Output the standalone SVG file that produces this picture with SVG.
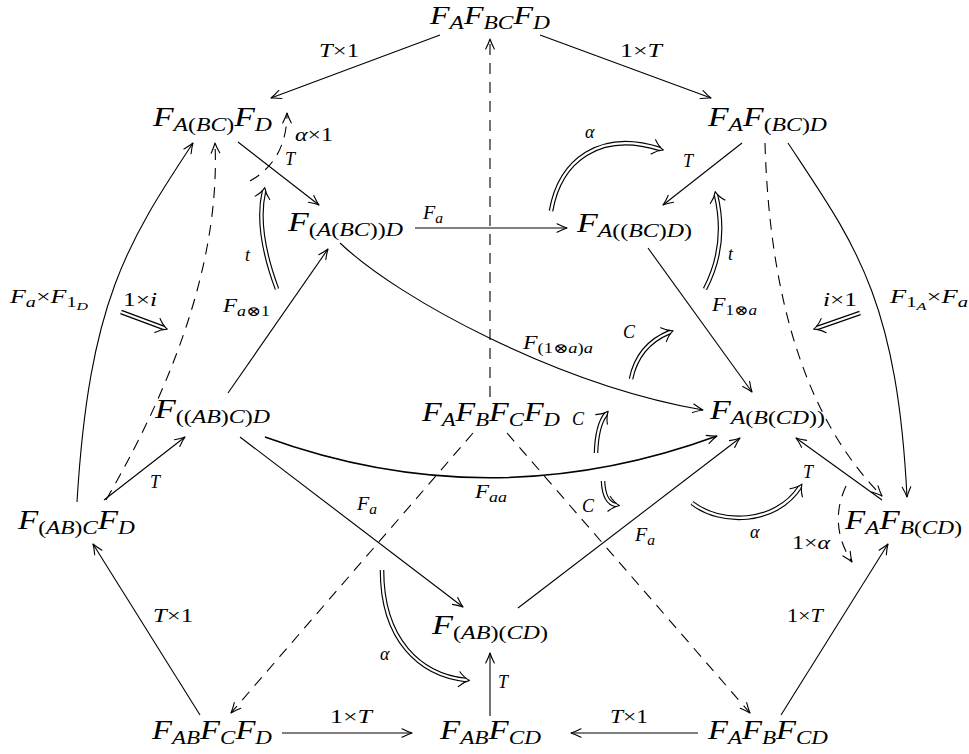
<svg xmlns="http://www.w3.org/2000/svg" width="969" height="754" viewBox="0 0 969 754">
<style>
.n{font-family:"Liberation Serif","DejaVu Serif",serif;font-size:27px;font-style:italic;fill:#000}
.s{font-size:19px}
.l{font-family:"Liberation Serif","DejaVu Serif",serif;font-size:18px;font-style:italic;fill:#000}
.ls{font-size:14px}
.lss{font-size:11px}
.r{font-style:normal}
.e{fill:none;stroke:#000;stroke-width:1.1}
.d{fill:none;stroke:#000;stroke-width:1.1;stroke-dasharray:11 8}
.dbo{fill:none;stroke:#000;stroke-width:4.6}
.dbi{fill:none;stroke:#fff;stroke-width:2.3}
</style>
<defs>
<marker id="ah" viewBox="-12 -6 14 12" refX="0" refY="0" markerWidth="14" markerHeight="12" markerUnits="userSpaceOnUse" orient="auto">
<path d="M-10,-4.3 Q-4,-1.2 0,0 Q-4,1.2 -10,4.3" fill="none" stroke="#000" stroke-width="1.1" stroke-linecap="round" stroke-linejoin="round" stroke-dasharray="none"/>
</marker>
<marker id="dh" viewBox="-10 -10 16 20" refX="0" refY="0" markerWidth="16" markerHeight="20" markerUnits="userSpaceOnUse" orient="auto">
<path d="M-7,-7.5 Q-2,-2 3.5,0 Q-2,2 -7,7.5" fill="none" stroke="#000" stroke-width="1.1" stroke-linecap="round" stroke-linejoin="round"/>
</marker>
</defs>
<rect width="969" height="754" fill="#fff"/>
<g id="connectors">
<path class="e" d="M440,35 L271,98" marker-end="url(#ah)"/>
<path class="e" d="M540,35 L711,98" marker-end="url(#ah)"/>
<path class="e" d="M238,142 L319,205" marker-end="url(#ah)"/>
<path class="e" d="M742,143 L663,205" marker-end="url(#ah)"/>
<path class="e" d="M415,228 L567,228" marker-end="url(#ah)"/>
<path class="e" d="M228,393 L328,249" marker-end="url(#ah)"/>
<path class="e" d="M648,248 L752,392" marker-end="url(#ah)"/>
<path class="e" d="M340,243 C400,300 560,385 703,410" marker-end="url(#ah)"/>
<path class="e" d="M265,437 Q490,519 717,436" style="stroke-width:1.5" marker-end="url(#ah)"/>
<path class="e" d="M240,437 L463,607" marker-end="url(#ah)"/>
<path class="e" d="M104,500 L185,437" marker-end="url(#ah)"/>
<path class="e" d="M77,502 C89,302 127,243 193,143" marker-end="url(#ah)"/>
<path class="e" d="M788,143 C854,243 897,297 907,497" marker-end="url(#ah)"/>
<path class="e" d="M882,500 L796,438" marker-end="url(#ah)"/>
<path class="e" d="M518,608 L740,438" marker-end="url(#ah)"/>
<path class="e" d="M200,715 L93,544" marker-end="url(#ah)"/>
<path class="e" d="M282,733 L412,733" marker-end="url(#ah)"/>
<path class="e" d="M698,733 L571,733" marker-end="url(#ah)"/>
<path class="e" d="M490,716 L490,653" marker-end="url(#ah)"/>
<path class="e" d="M781,715 L888,544" marker-end="url(#ah)"/>
<path class="d" d="M490,397 L490,39" marker-end="url(#ah)"/>
<path class="d" d="M473,433 L231,713" marker-end="url(#ah)"/>
<path class="d" d="M507,433 L750,713" marker-end="url(#ah)"/>
<path class="d" d="M106,500 Q222,300 215,143" marker-end="url(#ah)"/>
<path class="d" d="M765,143 Q772,385 882,496" marker-end="url(#ah)"/>
<path class="d" d="M250,181 Q287,160 287,113" marker-end="url(#ah)"/>
<path class="d" d="M846,486 Q828,525 852,562" marker-end="url(#ah)"/>
<path class="dbo" d="M551,211 C560,160 600,130 660,149"/>
<path class="dbi" d="M551,211 C560,160 600,130 660,149" marker-end="url(#dh)"/>
<path class="dbo" d="M277,289 Q255,230 264,191"/>
<path class="dbi" d="M277,289 Q255,230 264,191" marker-end="url(#dh)"/>
<path class="dbo" d="M705,289 Q728,245 716,195"/>
<path class="dbi" d="M705,289 Q728,245 716,195" marker-end="url(#dh)"/>
<path class="dbo" d="M121,312 L164,328"/>
<path class="dbi" d="M121,312 L164,328" marker-end="url(#dh)"/>
<path class="dbo" d="M860,313 L817,328"/>
<path class="dbi" d="M860,313 L817,328" marker-end="url(#dh)"/>
<path class="dbo" d="M631,379 Q638,345 670,332"/>
<path class="dbi" d="M631,379 Q638,345 670,332" marker-end="url(#dh)"/>
<path class="dbo" d="M596,453 Q597,425 606,414"/>
<path class="dbi" d="M596,453 Q597,425 606,414" marker-end="url(#dh)"/>
<path class="dbo" d="M603,481 Q604,503 616,505"/>
<path class="dbi" d="M603,481 Q604,503 616,505" marker-end="url(#dh)"/>
<path class="dbo" d="M692,503 C720,525 775,525 800,487"/>
<path class="dbi" d="M692,503 C720,525 775,525 800,487" marker-end="url(#dh)"/>
<path class="dbo" d="M382,570 C382,640 420,675 466,680"/>
<path class="dbi" d="M382,570 C382,640 420,675 466,680" marker-end="url(#dh)"/>
</g>
<g id="labels">
<text class="l" x="319" y="57" textLength="40" lengthAdjust="spacingAndGlyphs">T<tspan class="r">×1</tspan></text>
<text class="l" x="620" y="57" textLength="42" lengthAdjust="spacingAndGlyphs"><tspan class="r">1×</tspan>T</text>
<text class="l" x="295" y="141" textLength="38" lengthAdjust="spacingAndGlyphs">α<tspan class="r">×1</tspan></text>
<text class="l" x="285" y="165">T</text>
<text class="l" x="683" y="167">T</text>
<text class="l" x="585" y="138">α</text>
<text class="l" x="245" y="261">t</text>
<text class="l" x="728" y="260">t</text>
<text class="l" x="423" y="219" textLength="20" lengthAdjust="spacingAndGlyphs">F<tspan class="ls" dy="4">a</tspan></text>
<text class="l" x="10" y="303" textLength="78" lengthAdjust="spacingAndGlyphs">F<tspan class="ls" dy="4">a</tspan><tspan class="r" dy="-4">×</tspan>F<tspan class="ls r" dy="4">1</tspan><tspan class="lss" dy="3">D</tspan></text>
<text class="l" x="123" y="306" textLength="34" lengthAdjust="spacingAndGlyphs"><tspan class="r">1×</tspan>i</text>
<text class="l" x="223" y="312" textLength="47" lengthAdjust="spacingAndGlyphs">F<tspan class="ls" dy="4">a<tspan class="r">⊗1</tspan></tspan></text>
<text class="l" x="523" y="349" textLength="70" lengthAdjust="spacingAndGlyphs">F<tspan class="ls" dy="4"><tspan class="r">(1⊗</tspan>a<tspan class="r">)</tspan>a</tspan></text>
<text class="l" x="623" y="338">C</text>
<text class="l" x="712" y="311" textLength="45" lengthAdjust="spacingAndGlyphs">F<tspan class="ls" dy="4"><tspan class="r">1⊗</tspan>a</tspan></text>
<text class="l" x="823" y="306" textLength="34" lengthAdjust="spacingAndGlyphs">i<tspan class="r">×1</tspan></text>
<text class="l" x="890" y="303" textLength="78" lengthAdjust="spacingAndGlyphs">F<tspan class="ls r" dy="4">1</tspan><tspan class="lss" dy="3">A</tspan><tspan class="r" dy="-7">×</tspan>F<tspan class="ls" dy="4">a</tspan></text>
<text class="l" x="572" y="425">C</text>
<text class="l" x="150" y="488">T</text>
<text class="l" x="475" y="498" textLength="32" lengthAdjust="spacingAndGlyphs">F<tspan class="ls" dy="4">aa</tspan></text>
<text class="l" x="357" y="510" textLength="20" lengthAdjust="spacingAndGlyphs">F<tspan class="ls" dy="4">a</tspan></text>
<text class="l" x="582" y="512">C</text>
<text class="l" x="803" y="478">T</text>
<text class="l" x="635" y="541" textLength="20" lengthAdjust="spacingAndGlyphs">F<tspan class="ls" dy="4">a</tspan></text>
<text class="l" x="750" y="538">α</text>
<text class="l" x="792" y="549" textLength="38" lengthAdjust="spacingAndGlyphs"><tspan class="r">1×</tspan>α</text>
<text class="l" x="153" y="622" textLength="40" lengthAdjust="spacingAndGlyphs">T<tspan class="r">×1</tspan></text>
<text class="l" x="787" y="622" textLength="36" lengthAdjust="spacingAndGlyphs"><tspan class="r">1×</tspan>T</text>
<text class="l" x="380" y="660">α</text>
<text class="l" x="498" y="688">T</text>
<text class="l" x="330" y="723" textLength="42" lengthAdjust="spacingAndGlyphs"><tspan class="r">1×</tspan>T</text>
<text class="l" x="610" y="723" textLength="38" lengthAdjust="spacingAndGlyphs">T<tspan class="r">×1</tspan></text>
</g>
<g id="n_FA_FBC_FD"><text class="n" x="430" y="24" style="font-size:26px" textLength="120" lengthAdjust="spacingAndGlyphs">F<tspan class="s" dy="5">A</tspan><tspan dy="-5">F</tspan><tspan class="s" dy="5">BC</tspan><tspan dy="-5">F</tspan><tspan class="s" dy="5">D</tspan></text></g>
<g id="n_FA_BC_FD"><text class="n" x="153" y="126" textLength="119" lengthAdjust="spacingAndGlyphs">F<tspan class="s" dy="5">A<tspan class="r">(</tspan>BC<tspan class="r">)</tspan></tspan><tspan dy="-5">F</tspan><tspan class="s" dy="5">D</tspan></text></g>
<g id="n_FA_F_BC_D"><text class="n" x="708" y="126" textLength="119" lengthAdjust="spacingAndGlyphs">F<tspan class="s" dy="5">A</tspan><tspan dy="-5">F</tspan><tspan class="s" dy="5"><tspan class="r">(</tspan>BC<tspan class="r">)</tspan>D</tspan></text></g>
<g id="n_F_A_BC_D"><text class="n" x="288" y="231" textLength="115" lengthAdjust="spacingAndGlyphs">F<tspan class="s" dy="5"><tspan class="r">(</tspan>A<tspan class="r">(</tspan>BC<tspan class="r">))</tspan>D</tspan></text></g>
<g id="n_FA__BC_D"><text class="n" x="577" y="232" textLength="115" lengthAdjust="spacingAndGlyphs">F<tspan class="s" dy="5">A<tspan class="r">((</tspan>BC<tspan class="r">)</tspan>D<tspan class="r">)</tspan></tspan></text></g>
<g id="n_F__AB_C_D"><text class="n" x="155" y="418" textLength="115" lengthAdjust="spacingAndGlyphs">F<tspan class="s" dy="5"><tspan class="r">((</tspan>AB<tspan class="r">)</tspan>C<tspan class="r">)</tspan>D</tspan></text></g>
<g id="n_FA_FB_FC_FD"><text class="n" x="422" y="421" textLength="138" lengthAdjust="spacingAndGlyphs">F<tspan class="s" dy="5">A</tspan><tspan dy="-5">F</tspan><tspan class="s" dy="5">B</tspan><tspan dy="-5">F</tspan><tspan class="s" dy="5">C</tspan><tspan dy="-5">F</tspan><tspan class="s" dy="5">D</tspan></text></g>
<g id="n_FA_B_CD"><text class="n" x="710" y="419" textLength="115" lengthAdjust="spacingAndGlyphs">F<tspan class="s" dy="5">A<tspan class="r">(</tspan>B<tspan class="r">(</tspan>CD<tspan class="r">))</tspan></tspan></text></g>
<g id="n_F_AB_C_FD"><text class="n" x="18" y="529" textLength="117" lengthAdjust="spacingAndGlyphs">F<tspan class="s" dy="5"><tspan class="r">(</tspan>AB<tspan class="r">)</tspan>C</tspan><tspan dy="-5">F</tspan><tspan class="s" dy="5">D</tspan></text></g>
<g id="n_FA_FB_CD"><text class="n" x="845" y="529" textLength="117" lengthAdjust="spacingAndGlyphs">F<tspan class="s" dy="5">A</tspan><tspan dy="-5">F</tspan><tspan class="s" dy="5">B<tspan class="r">(</tspan>CD<tspan class="r">)</tspan></tspan></text></g>
<g id="n_F_AB_CD"><text class="n" x="432" y="634" textLength="116" lengthAdjust="spacingAndGlyphs">F<tspan class="s" dy="5"><tspan class="r">(</tspan>AB<tspan class="r">)(</tspan>CD<tspan class="r">)</tspan></tspan></text></g>
<g id="n_FAB_FC_FD"><text class="n" x="152" y="739" textLength="120" lengthAdjust="spacingAndGlyphs">F<tspan class="s" dy="5">AB</tspan><tspan dy="-5">F</tspan><tspan class="s" dy="5">C</tspan><tspan dy="-5">F</tspan><tspan class="s" dy="5">D</tspan></text></g>
<g id="n_FAB_FCD"><text class="n" x="440" y="739" textLength="101" lengthAdjust="spacingAndGlyphs">F<tspan class="s" dy="5">AB</tspan><tspan dy="-5">F</tspan><tspan class="s" dy="5">CD</tspan></text></g>
<g id="n_FA_FB_FCD"><text class="n" x="708" y="739" textLength="120" lengthAdjust="spacingAndGlyphs">F<tspan class="s" dy="5">A</tspan><tspan dy="-5">F</tspan><tspan class="s" dy="5">B</tspan><tspan dy="-5">F</tspan><tspan class="s" dy="5">CD</tspan></text></g>
</svg>
